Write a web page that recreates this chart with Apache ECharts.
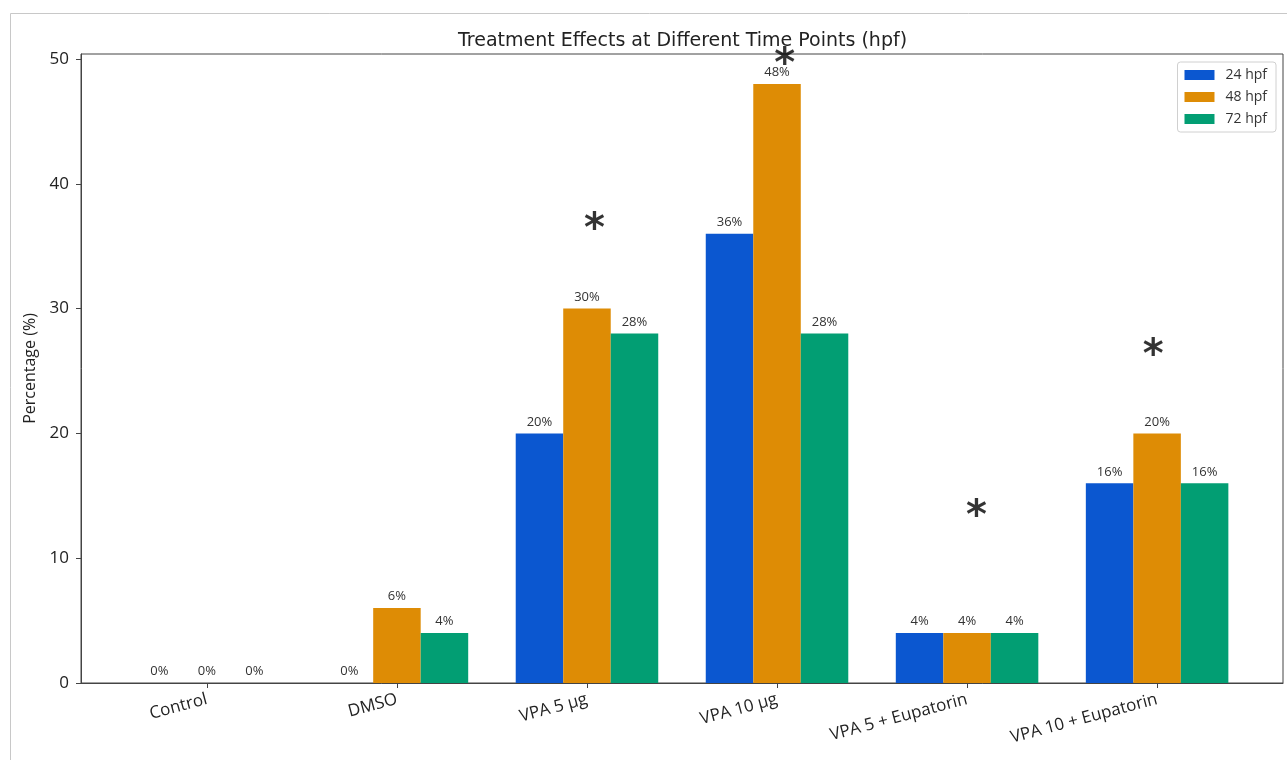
<!DOCTYPE html>
<html>
<head>
<meta charset="utf-8">
<script src="https://cdn.jsdelivr.net/npm/echarts@6/dist/echarts.min.js"></script>
<style>html,body{margin:0;padding:0;background:#fff;}#chart{width:1287px;height:760px;}</style>
</head>
<body>
<div id="chart"></div>
<script>
const categories = ['Control', 'DMSO', 'VPA 5 µg', 'VPA 10 µg', 'VPA 5 + Eupatorin', 'VPA 10 + Eupatorin'];
const seriesNames = ['24 hpf', '48 hpf', '72 hpf'];
const values24 = [0, 0, 20, 36, 4, 16];
const values48 = [0, 6, 30, 48, 4, 20];
const values72 = [0, 4, 28, 28, 4, 16];
const yTicks = [0, 10, 20, 30, 40, 50];
const asteriskX = [2.04, 3.04, 4.05, 4.98];
const asteriskY = [37, 50.2, 14.0, 26.9];

const colors = ['#0b57d0', '#de8c05', '#029e73'];
const offsets = [-0.25, 0, 0.25];
const allValues = [values24, values48, values72];
const font = 'Open Sans';

const chart = echarts.init(document.getElementById('chart'));
const barSeries = allValues.map((vals, s) => ({
  name: seriesNames[s],
  type: 'bar',
  barWidth: 47.5,
  barGap: '-100%',
  itemStyle: { color: colors[s] },
  label: {
    show: true, position: 'top', distance: 5,
    fontFamily: font, fontSize: 13, color: '#333',
    formatter: p => p.value[1] + '%'
  },
  data: vals.map((v, i) => [i + offsets[s], v])
}));

chart.setOption({
  animation: false,
  backgroundColor: '#fff',
  color: colors,
  title: {
    text: 'Treatment Effects at Different Time Points (hpf)',
    left: 453, top: 27,
    textStyle: { fontFamily: 'DejaVu Sans', fontSize: 19, fontWeight: 'normal', color: '#222' }
  },
  legend: {
    orient: 'vertical', right: 11, top: 62,
    itemWidth: 30, itemHeight: 10, itemGap: 8,
    padding: [6, 9, 6, 7],
    borderColor: '#d0d0d0', borderWidth: 1, borderRadius: 3,
    backgroundColor: '#fff',
    icon: 'rect',
    textStyle: { fontFamily: font, fontSize: 14, color: '#333', padding: [0, 0, 0, 6] },
    data: seriesNames
  },
  grid: { left: 81, right: 4, top: 54, bottom: 77, show: true, borderColor: '#444', borderWidth: 1 },
  xAxis: {
    type: 'value', min: -0.6625, max: 5.6625,
    splitLine: { show: false },
    axisLine: { show: true, onZero: false, lineStyle: { color: '#444' } },
    axisTick: { show: true, customValues: [0, 1, 2, 3, 4, 5], length: 5, lineStyle: { color: '#444' } },
    axisLabel: {
      customValues: [0, 1, 2, 3, 4, 5], rotate: 15, margin: 16,
      fontFamily: font, fontSize: 17, color: '#222',
      formatter: v => categories[Math.round(v)]
    }
  },
  yAxis: {
    type: 'value', min: 0, max: 50.4,
    name: 'Percentage (%)', nameLocation: 'middle', nameGap: 37,
    nameTextStyle: { fontFamily: font, fontSize: 16, color: '#222' },
    splitLine: { show: false },
    axisLine: { show: true, onZero: false, lineStyle: { color: '#444' } },
    axisTick: { show: true, customValues: yTicks, length: 5, lineStyle: { color: '#444' } },
    axisLabel: { customValues: yTicks, fontFamily: font, fontSize: 17, color: '#222', margin: 12 }
  },
  graphic: [{
    type: 'rect', silent: true, z: -10,
    shape: { x: 10.5, y: 13.5, width: 1400, height: 900 },
    style: { fill: 'none', stroke: '#c8c8c8', lineWidth: 1 }
  }],
  series: barSeries.concat([{
    type: 'scatter',
    symbolSize: 1,
    itemStyle: { color: 'rgba(0,0,0,0)' },
    z: 10,
    label: {
      show: true, position: 'inside', offset: [0, 9],
      formatter: '*', fontFamily: 'DejaVu Sans', fontSize: 40, fontWeight: 'bold', color: '#000'
    },
    data: asteriskX.map((x, i) => [x, asteriskY[i]])
  }])
});
</script>
</body>
</html>
